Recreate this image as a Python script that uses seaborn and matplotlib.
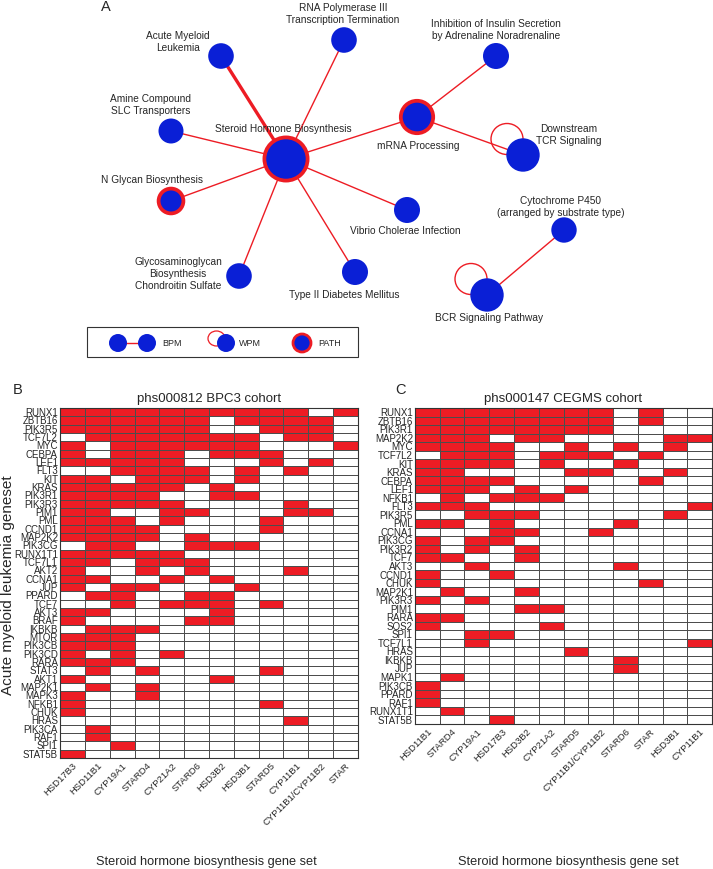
import numpy as np
import pandas as pd
import seaborn as sns
import matplotlib.pyplot as plt
from matplotlib.colors import ListedColormap
from matplotlib.patches import Ellipse, Rectangle

sns.set_style("white")
plt.rcParams["font.family"] = ["Liberation Sans", "DejaVu Sans"]

RED = "#ed1c24"
BLUE = "#0a1fd6"

# ---------------- panel A : pathway network ----------------
node_keys = ["steroid", "aml", "rnapol", "amine", "nglycan", "gag", "t2d",
             "vibrio", "mrna", "insulin", "tcr", "p450", "bcr"]
node_labels = ["Steroid Hormone Biosynthesis",
               "Acute Myeloid\nLeukemia",
               "RNA Polymerase III\nTranscription Termination",
               "Amine Compound\nSLC Transporters",
               "N Glycan Biosynthesis",
               "Glycosaminoglycan\nBiosynthesis\nChondroitin Sulfate",
               "Type II Diabetes Mellitus",
               "Vibrio Cholerae Infection",
               "mRNA Processing",
               "Inhibition of Insulin Secretion\nby Adrenaline Noradrenaline",
               "Downstream\nTCR Signaling",
               "Cytochrome P450\n(arranged by substrate type)",
               "BCR Signaling Pathway"]
node_x = [286, 221, 344, 171, 171, 239, 355, 407, 417, 496, 523, 564, 487]
node_y = [160, 57, 41, 132, 202, 277, 273, 211, 118, 57, 156, 231, 296]
node_r = [21.6, 12.8, 12.8, 12.5, 12.4, 12.8, 13.0, 13.0, 16.2, 13.0, 16.7, 12.7, 16.7]
node_path = [1, 0, 0, 0, 1, 0, 0, 0, 1, 0, 0, 0, 0]   # PATH ring
node_wpm = [0, 0, 0, 0, 0, 0, 0, 0, 0, 0, 1, 0, 1]    # self loop
label_x = [283, 178, 343, 151, 152, 178, 344, 405, 418, 496, 569, 561, 489]
label_y = [129, 42, 14, 105, 180, 274, 295, 231, 146, 30, 135, 207, 318]

edge_from = ["steroid"] * 8 + ["mrna", "mrna", "p450"]
edge_to = ["aml", "rnapol", "amine", "nglycan", "gag", "t2d", "vibrio", "mrna",
           "insulin", "tcr", "bcr"]
edge_lw = [2.4, 1, 1, 1, 1, 1, 1, 1, 1, 1, 1]

# ---------------- panel B : phs000812 BPC3 ----------------
b_genes = ["RUNX1", "ZBTB16", "PIK3R5", "TCF7L2", "MYC", "CEBPA", "LEF1", "FLT3",
           "KIT", "KRAS", "PIK3R1", "PIK3R3", "PIM1", "PML", "CCND1", "MAP2K2",
           "PIK3CG", "RUNX1T1", "TCF7L1", "AKT2", "CCNA1", "JUP", "PPARD", "TCF7",
           "AKT3", "BRAF", "IKBKB", "MTOR", "PIK3CB", "PIK3CD", "RARA", "STAT3",
           "AKT1", "MAP2K1", "MAPK3", "NFKB1", "CHUK", "HRAS", "PIK3CA", "RAF1",
           "SPI1", "STAT5B"]
b_steroid = ["HSD17B3", "HSD11B1", "CYP19A1", "STARD4", "CYP21A2", "STARD6",
             "HSD3B2", "HSD3B1", "STARD5", "CYP11B1", "CYP11B1/CYP11B2", "STAR"]
b_hits = ["111111111101", "111111011110", "111111001110", "011111110110",
          "101111110001", "101110111000", "111110001010", "001111010100",
          "110111010000", "111110100000", "111100110000", "111110000100",
          "110011000110", "111010001000", "111100001000", "111101000000",
          "011001110000", "111110000000", "110111000000", "100101000100",
          "110010100000", "101100010000", "011001100000", "001011101000",
          "110000100000", "100001100000", "011100000000", "111000000000",
          "111000000000", "101010000000", "111000000000", "010100001000",
          "100000100000", "010100000000", "100100000000", "100000001000",
          "100000000000", "000000000100", "010000000000", "010000000000",
          "001000000000", "100000000000"]

# ---------------- panel C : phs000147 CEGMS ----------------
c_genes = ["RUNX1", "ZBTB16", "PIK3R1", "MAP2K2", "MYC", "TCF7L2", "KIT", "KRAS",
           "CEBPA", "LEF1", "NFKB1", "FLT3", "PIK3R5", "PML", "CCNA1", "PIK3CG",
           "PIK3R2", "TCF7", "AKT3", "CCND1", "CHUK", "MAP2K1", "PIK3R3", "PIM1",
           "RARA", "SOS2", "SPI1", "TCF7L1", "HRAS", "IKBKB", "JUP", "MAPK1",
           "PIK3CB", "PPARD", "RAF1", "RUNX1T1", "STAT5B"]
c_steroid = ["HSD11B1", "STARD4", "CYP19A1", "HSD17B3", "HSD3B2", "CYP21A2",
             "STARD5", "CYP11B1/CYP11B2", "STARD6", "STAR", "HSD3B1", "CYP11B1"]
c_hits = ["111111110100", "111111110100", "111111110000", "111011000011",
          "111100101010", "011101110100", "111101001000", "110000110010",
          "111100000100", "111010100000", "010111000000", "111000000001",
          "001110000010", "110100001000", "000110010000", "101100000000",
          "101010000000", "110010000000", "001000001000", "100100000000",
          "100000000100", "010010000000", "101000000000", "000011000000",
          "110000000000", "100001000000", "001100000000", "001000000001",
          "000000100000", "000000001000", "000000001000", "010000000000",
          "100000000000", "100000000000", "100000000000", "010000000000",
          "000100000000"]

W, H = 713, 870
fig = plt.figure(figsize=(W / 100, H / 100), dpi=100)


def px_axes(left, top, right, bottom):
    return fig.add_axes([left / W, 1 - bottom / H, (right - left) / W, (bottom - top) / H])


# --- network ---
ax = px_axes(0, 0, W, 330)
ax.set_xlim(0, W)
ax.set_ylim(330, 0)
ax.axis("off")

pos = {k: (x, y) for k, x, y in zip(node_keys, node_x, node_y)}
for a, b, lw in zip(edge_from, edge_to, edge_lw):
    ax.plot([pos[a][0], pos[b][0]], [pos[a][1], pos[b][1]], color=RED, lw=lw, zorder=1)

for x, y, loop in zip(node_x, node_y, node_wpm):
    if loop:
        ax.add_patch(Ellipse((x - 16, y - 16), 32, 31, fill=False, ec=RED, lw=1, zorder=1))

px2pt = 0.72
sizes = [(2 * r * px2pt) ** 2 for r in node_r]
ecols = [RED if p else BLUE for p in node_path]
lws = [2.7 if p else 0 for p in node_path]
ax.scatter(node_x, node_y, s=sizes, c=BLUE, edgecolors=ecols, linewidths=lws, zorder=3)

for t, x, y in zip(node_labels, label_x, label_y):
    ax.text(x, y, t, ha="center", va="center", fontsize=7.3, linespacing=1.2)

# legend box
ax.add_patch(Rectangle((87, 328), 271, 30, fill=False, ec="#333333", lw=0.8, clip_on=False))
ax.plot([118, 147], [344, 344], color=RED, lw=1, zorder=1, clip_on=False)
ax.add_patch(Ellipse((216.5, 339.5), 17, 15, fill=False, ec=RED, lw=0.9, zorder=1, clip_on=False))
leg_x = [118, 147, 226, 302]
leg_ring = [0, 0, 0, 1]
ax.scatter(leg_x, [344] * 4, s=(2 * 9 * px2pt) ** 2, c=BLUE,
           edgecolors=[RED if r else BLUE for r in leg_ring],
           linewidths=[2.0 if r else 0 for r in leg_ring], zorder=3, clip_on=False)
for t, x in zip(["BPM", "WPM", "PATH"], [162, 239, 318]):
    ax.text(x, 344, t, ha="left", va="center", fontsize=6.5, clip_on=False)

# --- heatmaps ---
cmap = ListedColormap(["white", RED])
tick_font = ["Liberation Sans Narrow", "Liberation Sans", "DejaVu Sans"]


def draw_heat(axh, genes, steroid, hits, title):
    df = pd.DataFrame([[int(c) for c in s] for s in hits], index=genes, columns=steroid)
    sns.heatmap(df, ax=axh, cmap=cmap, vmin=0, vmax=1, cbar=False,
                linewidths=0.6, linecolor="#4d4d4d",
                xticklabels=True, yticklabels=True)
    axh.set_yticklabels(genes, rotation=0, fontsize=7, family=tick_font)
    axh.set_xticklabels(steroid, rotation=45, ha="right", rotation_mode="anchor",
                        fontsize=6.8, family=tick_font)
    axh.tick_params(length=0, pad=1.5)
    axh.set_xlabel("")
    axh.set_ylabel("")
    axh.set_title(title, fontsize=9.5, pad=5)
    for s in axh.spines.values():
        s.set_visible(True)
        s.set_color("#333333")
        s.set_linewidth(0.8)


axB = px_axes(60, 409, 358, 759)
draw_heat(axB, b_genes, b_steroid, b_hits, "phs000812 BPC3 cohort")
axC = px_axes(415, 409, 712, 725)
draw_heat(axC, c_genes, c_steroid, c_hits, "phs000147 CEGMS cohort")

fig.text(8 / W, 1 - 585 / H, "Acute myeloid leukemia geneset", rotation=90,
         ha="center", va="center", fontsize=11)
fig.text(206 / W, 1 - 862 / H, "Steroid hormone biosynthesis gene set",
         ha="center", va="center", fontsize=9.2)
fig.text(568 / W, 1 - 862 / H, "Steroid hormone biosynthesis gene set",
         ha="center", va="center", fontsize=9.2)

fig.text(106 / W, 1 - 0 / H, "A", ha="center", va="top", fontsize=10.5)
for t, x, y in [("B", 18, 390), ("C", 400, 390)]:
    fig.text(x / W, 1 - y / H, t, ha="center", va="center", fontsize=10.5)

fig.savefig("out.png", dpi=100)
